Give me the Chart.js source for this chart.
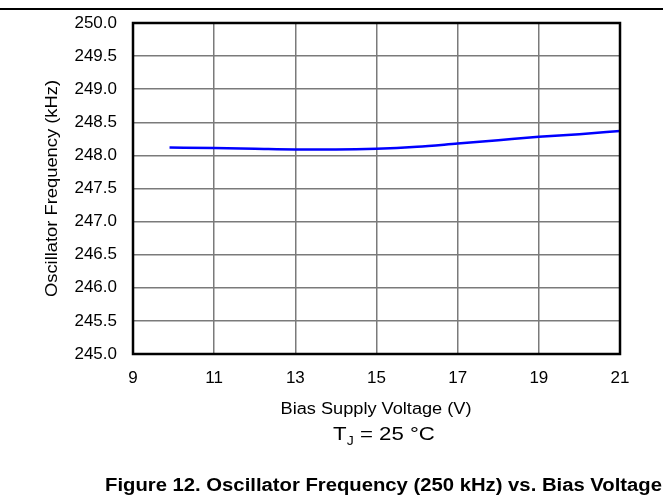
<!DOCTYPE html>
<html>
<head>
<meta charset="utf-8">
<script src="https://cdn.jsdelivr.net/npm/chart.js@4"></script>
<style>
html,body{margin:0;padding:0;background:#fff;}
#wrap{width:663px;height:500px;position:relative;}
</style>
</head>
<body>
<div id="wrap"><canvas id="c" width="663" height="500"></canvas></div>
<script>
const biasVoltage = [9.9, 11, 12, 13, 14, 15, 16, 17, 18, 19, 20, 21];
const oscFrequency = [248.12, 248.11, 248.10, 248.09, 248.09, 248.10, 248.13, 248.18, 248.23, 248.28, 248.32, 248.37];
const xTitle = 'Bias Supply Voltage (V)';
const yTitle = 'Oscillator Frequency (kHz)';
const caption = 'Figure 12. Oscillator Frequency (250 kHz) vs. Bias Voltage';

const FONT = '"Liberation Sans", Arial, sans-serif';

function stretchText(ctx, text, x, y, font, targetW) {
  ctx.font = font;
  const w = ctx.measureText(text).width;
  const s = targetW / w;
  ctx.save();
  ctx.translate(x, y);
  ctx.scale(s, 1);
  ctx.textAlign = 'center';
  ctx.textBaseline = 'middle';
  ctx.fillText(text, 0, 0);
  ctx.restore();
}

const decor = {
  id: 'decor',
  afterDraw(chart) {
    const ctx = chart.ctx;
    const a = chart.chartArea;
    ctx.save();
    // frame
    ctx.strokeStyle = '#000';
    ctx.lineWidth = 2.5;
    ctx.strokeRect(a.left, a.top, a.right - a.left, a.bottom - a.top);
    // top rule
    ctx.lineWidth = 2;
    ctx.beginPath(); ctx.moveTo(0, 9); ctx.lineTo(663, 9); ctx.stroke();
    ctx.fillStyle = '#000';
    // y title
    ctx.save();
    ctx.translate(53, 188.5);
    ctx.rotate(-Math.PI / 2);
    stretchText(ctx, yTitle, 0, 0, '16px ' + FONT, 217);
    ctx.restore();
    // x title
    stretchText(ctx, xTitle, 376, 410, '16px ' + FONT, 191);
    // TJ = 25 °C
    const S = 1.17;
    ctx.font = '19px ' + FONT;
    const w1 = ctx.measureText('T').width, w3 = ctx.measureText(' = 25 °C').width;
    ctx.font = '12px ' + FONT;
    const wJ = ctx.measureText('J').width;
    const total = (w1 + wJ + w3);
    ctx.save();
    ctx.translate(384 - total * S / 2, 435);
    ctx.scale(S, 1);
    ctx.textAlign = 'left'; ctx.textBaseline = 'middle';
    ctx.font = '19px ' + FONT;
    ctx.fillText('T', 0, 0);
    ctx.font = '12px ' + FONT;
    ctx.fillText('J', w1, 7);
    ctx.font = '19px ' + FONT;
    ctx.fillText(' = 25 °C', w1 + wJ, 0);
    ctx.restore();
    // caption
    stretchText(ctx, caption, 383.5, 486, 'bold 18px ' + FONT, 557);
    ctx.restore();
  }
};

new Chart(document.getElementById('c'), {
  type: 'line',
  data: {
    datasets: [{
      data: biasVoltage.map((v, i) => ({x: v, y: oscFrequency[i]})),
      borderColor: '#0000ff',
      borderWidth: 2.5,
      pointRadius: 0,
      cubicInterpolationMode: 'monotone',
      fill: false
    }]
  },
  options: {
    responsive: false,
    animation: false,
    layout: {padding: {top: 23, right: 43, left: 0, bottom: 0}},
    plugins: {legend: {display: false}, tooltip: {enabled: false}},
    scales: {
      x: {
        type: 'linear', min: 9, max: 21,
        ticks: {stepSize: 2, color: '#000', font: {family: FONT, size: 17}, padding: 14, maxRotation: 0},
        grid: {color: '#7a7a7a', lineWidth: 1.5, tickLength: 0},
        border: {display: false},
        afterFit(s) { s.height = 146; s.paddingLeft = 0; s.paddingRight = 0; }
      },
      y: {
        min: 245, max: 250,
        ticks: {stepSize: 0.5, color: '#000', font: {family: FONT, size: 17}, padding: 16,
          callback: v => Number(v).toFixed(1)},
        grid: {color: '#7a7a7a', lineWidth: 1.5, tickLength: 0},
        border: {display: false},
        afterFit(s) { s.width = 133; s.paddingTop = 0; s.paddingBottom = 0; }
      }
    }
  },
  plugins: [decor]
});
</script>
</body>
</html>
